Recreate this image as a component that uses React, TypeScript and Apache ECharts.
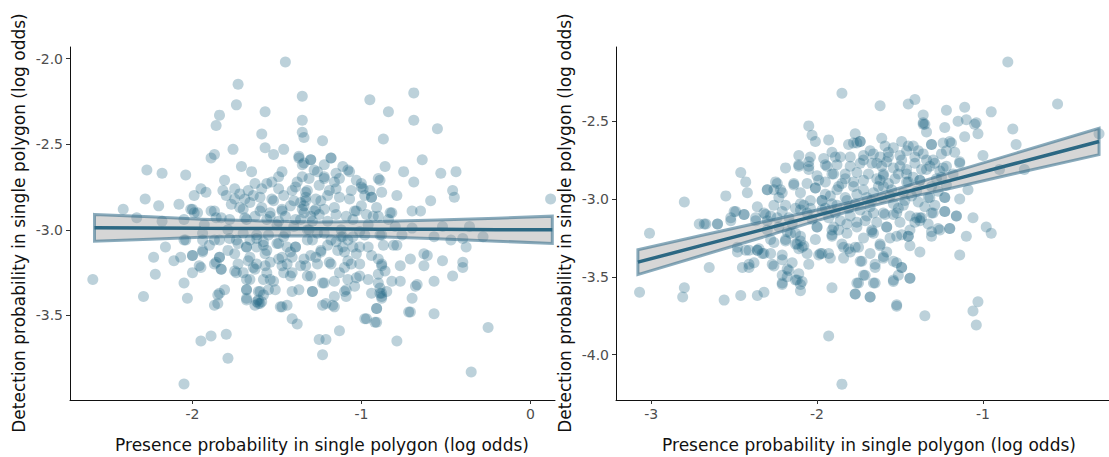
import React, { useEffect, useRef } from 'react';
import * as echarts from 'echarts';

// ---------- data ----------
const leftPoints: number[][] = [
[-1.45,-2.02],[-1.73,-2.15],[-1.35,-2.22],[-0.69,-2.20],[-0.95,-2.24],[-1.74,-2.27],[-1.57,-2.31],[-0.84,-2.31],[-1.84,-2.33],[-1.86,-2.39],[-1.35,-2.36],[-0.69,-2.36],[-0.55,-2.41],[-1.35,-2.43],[-1.59,-2.44],[-1.34,-2.46],[-1.23,-2.48],[-0.87,-2.47],[-1.76,-2.53],[-1.57,-2.52],[-1.46,-2.53],[-1.87,-2.56],[-1.89,-2.58],[-1.52,-2.56],[-1.37,-2.58],[-1.30,-2.59],[-1.18,-2.58],[-1.34,-2.61],[-1.71,-2.63],[-0.64,-2.59],[-2.27,-2.65],[-2.18,-2.67],[-2.04,-2.68],[-1.65,-2.66],[-1.47,-2.66],[-1.28,-2.65],[-1.11,-2.63],[-1.07,-2.66],[-0.86,-2.63],[-0.75,-2.66],[-0.53,-2.67],[-0.44,-2.66],[-1.81,-2.71],[-1.35,-2.69],[-1.63,-2.73],[-1.56,-2.73],[-1.22,-2.70],[-1.16,-2.72],[-1.03,-2.71],[-0.89,-2.71],[-0.69,-2.72],[-1.95,-2.76],[-1.92,-2.78],[-1.82,-2.77],[-1.67,-2.77],[-1.59,-2.76],[-1.49,-2.76],[-1.41,-2.77],[-1.32,-2.77],[-1.15,-2.76],[-1.00,-2.75],[-0.88,-2.78],[-0.46,-2.77],[-2.28,-2.82],[-1.99,-2.80],[-1.75,-2.82],[-1.64,-2.80],[-1.52,-2.83],[-1.33,-2.81],[-1.24,-2.83],[-1.07,-2.82],[-0.94,-2.81],[-0.79,-2.80],[-0.59,-2.83],[-0.45,-2.81],[0.12,-2.82],[-2.20,-2.86],[-2.08,-2.85],[-2.00,-2.88],[-1.87,-2.89],[-1.77,-2.85],[-1.70,-2.88],[-1.59,-2.87],[-1.47,-2.88],[-1.34,-2.86],[-1.27,-2.88],[-1.16,-2.87],[-1.03,-2.89],[-0.91,-2.87],[-0.82,-2.90],[-0.70,-2.89],[-0.65,-2.89],[-2.41,-2.88],[-2.33,-2.93],[-2.18,-2.95],[-2.05,-2.94],[-1.99,-2.90],[-1.86,-2.93],[-1.68,-2.94],[-1.54,-2.92],[-1.39,-2.94],[-1.30,-2.92],[-1.20,-2.95],[-1.09,-2.92],[-0.93,-2.92],[-0.84,-2.94],[-0.70,-2.99],[-0.52,-2.98],[-0.36,-2.98],[-1.94,-3.02],[-1.79,-3.00],[-1.62,-3.03],[-1.45,-3.02],[-1.32,-3.00],[-1.22,-3.02],[-1.11,-3.04],[-0.98,-3.03],[-0.88,-3.03],[-0.57,-3.04],[-0.47,-3.06],[-0.40,-3.05],[-0.28,-3.04],[-2.16,-3.10],[-2.04,-3.06],[-1.87,-3.06],[-1.74,-3.06],[-1.68,-3.10],[-1.58,-3.07],[-1.49,-3.08],[-1.39,-3.10],[-1.29,-3.06],[-1.15,-3.07],[-1.05,-3.10],[-0.96,-3.10],[-0.87,-3.09],[-0.79,-3.09],[-0.38,-3.10],[-2.23,-3.16],[-2.11,-3.18],[-2.07,-3.16],[-2.00,-3.15],[-1.94,-3.13],[-1.84,-3.16],[-1.75,-3.14],[-1.67,-3.18],[-1.57,-3.14],[-1.47,-3.16],[-1.41,-3.16],[-1.30,-3.15],[-1.24,-3.13],[-1.10,-3.13],[-1.03,-3.14],[-0.90,-3.17],[-0.71,-3.17],[-0.61,-3.15],[-0.52,-3.18],[-0.40,-3.19],[-1.86,-3.19],[-1.96,-3.21],[-1.83,-3.23],[-1.74,-3.25],[-1.63,-3.23],[-1.56,-3.25],[-1.47,-3.21],[-1.33,-3.21],[-1.26,-3.20],[-1.18,-3.20],[-1.08,-3.18],[-1.01,-3.20],[-0.88,-3.20],[-0.77,-3.21],[-0.63,-3.21],[-0.40,-3.22],[-2.22,-3.26],[-2.00,-3.25],[-2.59,-3.29],[-2.05,-3.31],[-1.68,-3.29],[-1.54,-3.29],[-1.42,-3.27],[-1.32,-3.27],[-1.23,-3.31],[-1.16,-3.30],[-1.08,-3.29],[-1.01,-3.27],[-0.90,-3.26],[-0.82,-3.30],[-0.77,-3.30],[-0.57,-3.30],[-0.46,-3.27],[-1.81,-3.35],[-1.68,-3.35],[-1.61,-3.36],[-1.51,-3.35],[-1.41,-3.36],[-1.29,-3.36],[-1.09,-3.35],[-0.94,-3.37],[-0.88,-3.37],[-0.68,-3.33],[-2.29,-3.39],[-2.03,-3.40],[-1.85,-3.38],[-1.68,-3.41],[-1.62,-3.42],[-1.60,-3.43],[-1.16,-3.39],[-1.09,-3.39],[-0.88,-3.40],[-0.70,-3.40],[-1.87,-3.44],[-1.85,-3.43],[-1.48,-3.45],[-1.44,-3.44],[-1.23,-3.44],[-1.16,-3.45],[-0.91,-3.46],[-0.72,-3.48],[-0.57,-3.49],[-1.41,-3.52],[-1.38,-3.55],[-0.97,-3.52],[-0.91,-3.54],[-0.25,-3.57],[-1.95,-3.65],[-1.89,-3.62],[-1.80,-3.61],[-1.25,-3.64],[-1.21,-3.64],[-1.13,-3.59],[-0.79,-3.65],[-1.79,-3.75],[-1.23,-3.73],[-0.35,-3.83],[-2.05,-3.90],
[-1.66,-2.84],[-1.60,-2.81],[-1.53,-2.82],[-1.46,-2.80],[-1.72,-2.87],[-1.60,-2.89],[-1.54,-2.90],[-1.47,-2.89],[-2.01,-2.88],[-1.97,-2.90],[-1.89,-2.89],[-1.83,-2.93],[-1.78,-2.94],[-1.69,-2.93],[-1.63,-2.92],[-1.56,-2.94],[-1.49,-2.95],[-1.66,-3.06],[-1.73,-3.08],[-1.78,-3.05],[-1.68,-3.10],[-1.62,-3.10],[-1.56,-3.12],[-1.50,-3.08],[-1.44,-3.10],[-2.05,-3.06],[-1.94,-3.06],[-1.84,-3.06],[-2.00,-3.15],[-1.94,-3.12],[-1.84,-3.16],[-1.66,-3.16],[-1.62,-3.20],[-1.57,-3.21],[-1.49,-3.17],[-1.44,-3.20],[-1.95,-3.22],[-1.87,-3.20],[-1.83,-3.23],[-1.75,-3.24],[-1.70,-3.25],[-1.64,-3.22],[-1.66,-3.29],[-1.58,-3.29],[-1.52,-3.30],[-1.46,-3.25],[-1.68,-3.35],[-1.60,-3.36],[-1.55,-3.35],[-1.68,-3.40],[-1.61,-3.43],[-1.59,-3.42],[-1.47,-3.45],[-1.84,-3.37],
[-1.37,-2.57],[-1.30,-2.59],[-1.18,-2.58],[-1.35,-2.62],[-1.26,-2.66],[-1.22,-2.69],[-1.15,-2.67],[-1.08,-2.65],[-1.00,-2.73],[-0.94,-2.81],[-0.90,-2.70],[-1.39,-2.75],[-1.33,-2.83],[-1.27,-2.82],[-1.19,-2.77],[-1.13,-2.81],[-1.06,-2.77],[-0.99,-2.76],[-1.35,-2.88],[-1.28,-2.89],[-1.22,-2.88],[-1.15,-2.91],[-1.04,-2.89],[-0.97,-2.91],[-0.90,-2.92],[-0.83,-2.90],[-1.40,-2.98],[-1.31,-3.00],[-1.12,-3.04],[-1.01,-3.01],[-0.89,-3.03],[-1.39,-3.10],[-1.32,-3.06],[-1.24,-3.12],[-1.11,-3.10],[-1.01,-3.10],[-0.94,-3.15],[-0.81,-3.09],[-1.34,-3.17],[-1.27,-3.16],[-1.19,-3.19],[-1.06,-3.20],[-0.88,-3.21],[-1.41,-3.25],[-1.30,-3.27],[-1.22,-3.31],[-1.13,-3.25],[-1.03,-3.28],[-0.96,-3.29],[-0.86,-3.24],[-1.37,-3.35],[-1.29,-3.36],[-1.10,-3.36],[-0.89,-3.37],[-1.21,-3.43],[-1.17,-3.44],[-0.91,-3.46],[-0.98,-3.52],[-0.92,-3.54],[-0.71,-3.48],[-0.63,-3.14],[-0.67,-3.32],
[-1.36,-2.84],[-1.34,-2.90],[-1.36,-2.94],[-1.33,-2.78],[-1.38,-2.72],[-1.31,-2.70],[-1.25,-2.74],[-1.20,-2.80],[-1.42,-2.86],[-1.45,-2.92],[-1.40,-2.83],[-1.29,-2.95],[-1.25,-2.91],[-1.62,-3.05],[-1.58,-3.09],[-1.55,-3.03],[-1.70,-3.02],[-1.12,-3.00],[-1.08,-3.06],[-1.14,-3.12],[-1.05,-3.04],[-1.18,-3.06],[-1.72,-2.79],[-1.69,-2.82],[-1.75,-2.76],[-1.80,-2.80],[-0.89,-3.34],[-0.88,-3.39],[-0.90,-3.31],[-0.85,-3.36],[-1.61,-3.41],[-1.63,-3.44],[-1.58,-3.38],[-1.00,-2.86],[-0.98,-2.80],[-0.95,-2.77],[-1.05,-2.94],[-0.96,-2.97],[-1.50,-2.97],[-1.46,-3.04],[-1.53,-2.72],[-1.49,-2.69],[-1.26,-3.02],[-1.20,-3.09],[-1.42,-3.13],[-1.36,-3.21],[-1.10,-3.22],[-1.04,-3.33],[-1.54,-3.19],[-1.73,-3.20],[-1.79,-3.12],[-1.90,-3.09],[-0.80,-2.98],[-0.76,-3.03],[-1.93,-2.97],[-1.22,-2.62],[-1.13,-2.70]
];

const rightPoints: number[][] = [
[-0.85,-2.12],[-1.85,-2.32],[-1.62,-2.40],[-1.45,-2.39],[-1.41,-2.36],[-0.55,-2.39],[-1.22,-2.43],[-1.11,-2.41],[-0.95,-2.44],[-1.36,-2.46],[-1.35,-2.52],[-1.15,-2.50],[-1.10,-2.49],[-1.23,-2.54],[-1.05,-2.52],[-1.34,-2.57],[-1.03,-2.58],[-0.82,-2.55],[-0.75,-2.81],[-0.90,-2.81],[-0.80,-2.65],[-1.00,-2.72],[-2.05,-2.53],[-2.03,-2.59],[-2.01,-2.63],[-1.93,-2.62],[-1.77,-2.58],[-1.76,-2.64],[-1.81,-2.65],[-1.74,-2.63],[-1.61,-2.61],[-1.59,-2.66],[-1.49,-2.63],[-1.45,-2.66],[-1.39,-2.69],[-1.31,-2.65],[-1.25,-2.71],[-1.19,-2.64],[-1.17,-2.70],[-1.11,-2.60],[-1.91,-2.70],[-1.89,-2.73],[-1.86,-2.73],[-1.72,-2.72],[-1.66,-2.71],[-1.57,-2.73],[-1.50,-2.72],[-1.41,-2.73],[-1.34,-2.75],[-1.29,-2.77],[-1.22,-2.79],[-1.14,-2.77],[-2.11,-2.72],[-2.04,-2.73],[-2.05,-2.79],[-2.11,-2.78],[-2.19,-2.80],[-1.95,-2.78],[-1.91,-2.84],[-1.80,-2.79],[-1.74,-2.77],[-1.67,-2.77],[-1.61,-2.79],[-1.54,-2.80],[-1.46,-2.81],[-1.37,-2.81],[-1.32,-2.79],[-1.25,-2.86],[-2.46,-2.83],[-2.43,-2.89],[-2.42,-2.96],[-2.55,-2.98],[-2.80,-3.02],[-2.30,-2.94],[-2.25,-2.89],[-2.22,-2.94],[-2.14,-2.90],[-2.10,-2.96],[-2.01,-2.93],[-1.95,-2.89],[-1.87,-2.92],[-1.83,-2.84],[-1.78,-2.89],[-1.72,-2.88],[-1.64,-2.87],[-1.57,-2.90],[-1.51,-2.84],[-1.46,-2.89],[-1.38,-2.88],[-1.31,-2.92],[-1.22,-2.91],[-1.09,-2.94],[-1.14,-3.00],[-1.23,-2.99],[-2.23,-2.99],[-2.19,-3.04],[-2.10,-3.03],[-2.04,-3.01],[-1.97,-3.01],[-1.91,-3.03],[-1.82,-3.01],[-1.76,-2.97],[-1.67,-3.01],[-1.61,-2.99],[-1.54,-3.03],[-1.47,-3.01],[-1.39,-3.02],[-1.33,-2.99],[-1.29,-3.04],[-2.50,-3.08],[-2.44,-3.10],[-2.32,-3.09],[-2.28,-3.11],[-2.21,-3.08],[-2.13,-3.06],[-2.06,-3.09],[-1.97,-3.07],[-1.89,-3.09],[-1.80,-3.11],[-1.74,-3.07],[-1.66,-3.09],[-1.59,-3.10],[-1.52,-3.09],[-1.44,-3.11],[-1.37,-3.12],[-1.30,-3.09],[-1.23,-3.08],[-1.16,-3.11],[-1.06,-3.12],[-2.71,-3.16],[-2.67,-3.16],[-2.60,-3.16],[-2.52,-3.14],[-2.37,-3.14],[-2.30,-3.14],[-2.23,-3.18],[-2.15,-3.16],[-2.00,-3.18],[-1.91,-3.20],[-1.82,-3.16],[-1.76,-3.18],[-1.67,-3.21],[-1.58,-3.18],[-1.50,-3.15],[-1.44,-3.20],[-1.38,-3.14],[-1.20,-3.19],[-0.98,-3.18],[-0.95,-3.22],[-3.01,-3.22],[-2.48,-3.31],[-2.41,-3.33],[-2.36,-3.33],[-2.28,-3.26],[-2.19,-3.26],[-2.13,-3.22],[-2.13,-3.29],[-2.09,-3.31],[-2.01,-3.26],[-1.97,-3.35],[-1.91,-3.23],[-1.85,-3.29],[-1.81,-3.32],[-1.77,-3.31],[-1.72,-3.25],[-1.66,-3.22],[-1.62,-3.30],[-1.56,-3.25],[-1.49,-3.23],[-1.45,-3.24],[-1.31,-3.24],[-1.26,-3.20],[-1.10,-3.24],[-1.14,-3.36],[-2.45,-3.44],[-2.41,-3.42],[-2.32,-3.35],[-2.26,-3.43],[-2.21,-3.39],[-2.18,-3.45],[-2.15,-3.41],[-2.06,-3.35],[-1.99,-3.36],[-1.92,-3.38],[-1.84,-3.38],[-1.74,-3.40],[-1.65,-3.44],[-1.60,-3.38],[-1.52,-3.41],[-1.49,-3.44],[-2.65,-3.44],[-2.21,-3.49],[-2.13,-3.52],[-2.10,-3.59],[-2.18,-3.50],[-2.21,-3.55],[-1.72,-3.49],[-1.54,-3.53],[-1.51,-3.49],[-1.44,-3.51],[-1.65,-3.54],[-1.75,-3.54],[-1.91,-3.57],[-2.36,-3.62],[-2.32,-3.60],[-2.46,-3.62],[-2.56,-3.65],[-2.80,-3.57],[-2.81,-3.63],[-3.07,-3.60],[-1.77,-3.61],[-1.68,-3.63],[-1.52,-3.69],[-1.35,-3.75],[-1.03,-3.66],[-1.06,-3.72],[-1.04,-3.81],[-1.93,-3.88],[-1.85,-4.19],[-0.30,-2.58],
[-2.11,-2.79],[-2.05,-2.76],[-2.05,-2.81],[-2.00,-2.85],[-1.94,-2.79],[-1.90,-2.84],[-2.24,-2.90],[-2.30,-2.94],[-2.26,-2.94],[-2.21,-2.96],[-2.14,-2.91],[-2.06,-2.90],[-2.01,-2.93],[-2.08,-3.04],[-2.10,-3.07],[-2.04,-3.06],[-1.97,-3.01],[-1.95,-3.06],[-1.88,-3.04],[-1.83,-2.99],[-2.31,-3.10],[-2.24,-3.12],[-2.37,-3.12],[-2.49,-3.08],[-2.44,-3.10],[-2.52,-3.12],[-2.68,-3.16],[-2.60,-3.16],[-2.30,-3.20],[-2.18,-3.21],[-2.12,-3.29],[-2.16,-3.22],[-2.10,-3.24],[-2.00,-3.18],[-1.90,-3.18],[-1.91,-3.24],[-1.87,-3.20],[-1.84,-3.31],[-1.98,-3.35],[-1.93,-3.35],[-2.19,-3.27],[-2.21,-3.36],[-2.28,-3.35],[-2.36,-3.33],[-2.43,-3.33],[-2.48,-3.34],[-2.38,-3.41],[-2.41,-3.44],[-2.27,-3.42],[-2.17,-3.46],[-2.11,-3.48],[-2.12,-3.52],[-2.21,-3.54],
[-1.36,-2.51],[-1.36,-2.52],[-1.04,-2.51],[-1.78,-2.64],[-1.74,-2.63],[-1.31,-2.65],[-1.24,-2.64],[-1.20,-2.63],[-1.22,-2.69],[-1.68,-2.69],[-1.62,-2.73],[-1.54,-2.67],[-1.46,-2.69],[-1.42,-2.66],[-1.36,-2.71],[-1.30,-2.75],[-1.80,-2.73],[-1.72,-2.75],[-1.64,-2.77],[-1.58,-2.76],[-1.50,-2.79],[-1.41,-2.77],[-1.34,-2.81],[-1.24,-2.80],[-1.14,-2.76],[-1.76,-2.83],[-1.69,-2.84],[-1.60,-2.85],[-1.53,-2.87],[-1.46,-2.84],[-1.45,-2.89],[-1.38,-2.88],[-1.28,-2.87],[-1.78,-2.92],[-1.72,-2.94],[-1.63,-2.92],[-1.55,-2.94],[-1.48,-2.96],[-1.40,-2.95],[-1.32,-2.99],[-1.23,-2.99],[-1.77,-3.03],[-1.68,-3.05],[-1.60,-3.09],[-1.54,-3.10],[-1.48,-3.04],[-1.38,-3.12],[-1.31,-3.09],[-1.23,-3.08],[-1.16,-3.11],[-1.76,-3.15],[-1.71,-3.14],[-1.67,-3.20],[-1.58,-3.18],[-1.52,-3.24],[-1.45,-3.24],[-1.31,-3.21],[-1.27,-3.19],[-1.20,-3.19],[-1.75,-3.31],[-1.80,-3.34],[-1.62,-3.29],[-1.68,-3.35],[-1.60,-3.37],[-1.73,-3.40],[-1.65,-3.42],[-1.54,-3.40],[-1.49,-3.44],[-1.71,-3.49],[-1.76,-3.54],[-1.66,-3.54],[-1.54,-3.52],[-1.44,-3.51],[-1.77,-3.61],[-1.68,-3.63],[-1.52,-3.68],
[-2.10,-3.27],[-2.08,-3.30],[-2.11,-3.32],[-2.35,-3.32],[-2.33,-3.35],[-1.85,-2.90],[-1.83,-2.87],[-1.88,-2.94],[-1.60,-2.84],[-1.62,-2.88],[-1.41,-3.15],[-1.40,-3.12],[-2.10,-3.55],[-2.09,-3.53],[-1.95,-2.97],[-1.99,-2.88],[-1.70,-2.99],[-1.66,-2.96],[-1.56,-2.98],[-1.51,-3.06],[-1.43,-2.98],[-1.35,-3.05],[-1.27,-2.95],[-1.18,-2.84],[-1.26,-2.82],[-1.88,-2.78],[-1.96,-2.74],[-2.17,-3.12],[-2.03,-3.13],[-1.93,-3.12],[-1.86,-3.14],[-2.26,-3.04],[-2.36,-3.05],[-1.57,-2.70],[-1.49,-2.75],[-1.42,-2.86],[-1.70,-3.11],[-1.64,-3.15],[-1.82,-3.22],[-2.05,-3.42],[-2.26,-3.28],[-1.44,-3.30],[-1.38,-3.34],[-1.58,-3.34],[-1.33,-3.16],[-1.60,-2.92],[-1.92,-2.98],[-1.81,-3.06]
];

// regression fit and confidence band, read at a few x positions
const leftBandX = [-2.58, -2.25, -1.95, -1.6, -1.25, -0.9, -0.55, -0.2, 0.13];
const leftFit = [-2.988, -2.989, -2.991, -2.992, -2.994, -2.996, -2.997, -2.999, -3.0];
const leftLower = [-3.066, -3.055, -3.044, -3.036, -3.034, -3.04, -3.052, -3.066, -3.08];
const leftUpper = [-2.91, -2.923, -2.938, -2.948, -2.954, -2.952, -2.942, -2.932, -2.92];

const rightBandX = [-3.08, -2.7, -2.3, -2.0, -1.8, -1.5, -1.2, -0.8, -0.3];
const rightFit = [-3.406, -3.3, -3.189, -3.105, -3.049, -2.965, -2.882, -2.77, -2.63];
const rightLower = [-3.486, -3.365, -3.237, -3.139, -3.077, -3.001, -2.932, -2.835, -2.715];
const rightUpper = [-3.326, -3.235, -3.141, -3.071, -3.021, -2.929, -2.832, -2.705, -2.545];

const leftXTicks = [-2, -1, 0];
const leftYTicks = [-2.0, -2.5, -3.0, -3.5];
const rightXTicks = [-3, -2, -1];
const rightYTicks = [-2.5, -3.0, -3.5, -4.0];

const xTitle = 'Presence probability in single polygon (log odds)';
const yTitle = 'Detection probability in single polygon (log odds)';

const FONT = 'DejaVu Sans';
const POINT = 'rgba(27, 97, 130, 0.37)';
const LINE = '#2c6883';

function axisBase(ticks: number[], digits: number) {
  return {
    type: 'value' as const,
    axisLine: { show: true, onZero: false, lineStyle: { color: '#111', width: 1 } },
    axisTick: { show: true, length: 4, customValues: ticks, lineStyle: { color: '#333' } },
    axisLabel: {
      show: true,
      customValues: ticks,
      color: '#4d4d4d',
      fontFamily: FONT,
      fontSize: 14,
      margin: 7,
      formatter: (v: number) => v.toFixed(digits),
    },
    splitLine: { show: false },
  };
}

function bandSeries(idx: number, bx: number[], lo: number[], up: number[]) {
  return {
    type: 'custom',
    xAxisIndex: idx,
    yAxisIndex: idx,
    clip: true,
    z: 3,
    data: [[bx[0], lo[0]]],
    renderItem: (params: any, api: any) => {
      const pts: number[][] = [];
      for (let i = 0; i < bx.length; i++) pts.push(api.coord([bx[i], up[i]]));
      for (let i = bx.length - 1; i >= 0; i--) pts.push(api.coord([bx[i], lo[i]]));
      return {
        type: 'polygon',
        shape: { points: pts },
        style: { fill: 'rgba(153,153,153,0.4)', stroke: 'rgba(44,104,135,0.55)', lineWidth: 3 },
      };
    },
  };
}

export default function App() {
  const ref = useRef<HTMLDivElement>(null);
  useEffect(() => {
    document.body.style.margin = '0';
    if (!ref.current) return;
    const chart = echarts.init(ref.current, null, { renderer: 'svg' });
    const titleStyle = (text: string) => ({
      text, fill: '#111', font: `17px "${FONT}"`, textAlign: 'center', textVerticalAlign: 'middle',
    });
    chart.setOption({
      animation: false,
      backgroundColor: '#fff',
      grid: [
        { left: 70, top: 47, width: 485, height: 353 },
        { left: 616, top: 47, width: 493, height: 353 },
      ],
      xAxis: [
        { ...axisBase(leftXTicks, 0), gridIndex: 0, min: -2.725, max: 0.146 },
        { ...axisBase(rightXTicks, 0), gridIndex: 1, min: -3.212, max: -0.24 },
      ],
      yAxis: [
        { ...axisBase(leftYTicks, 1), gridIndex: 0, min: -3.994, max: -1.932 },
        { ...axisBase(rightYTicks, 1), gridIndex: 1, min: -4.292, max: -2.023 },
      ],
      series: [
        {
          type: 'scatter', xAxisIndex: 0, yAxisIndex: 0, data: leftPoints, symbolSize: 11,
          itemStyle: { color: POINT }, clip: true, z: 2,
        },
        bandSeries(0, leftBandX, leftLower, leftUpper),
        {
          type: 'line', xAxisIndex: 0, yAxisIndex: 0, data: leftBandX.map((x, i) => [x, leftFit[i]]),
          symbol: 'none', lineStyle: { color: LINE, width: 3.5 }, z: 4, clip: true,
        },
        {
          type: 'scatter', xAxisIndex: 1, yAxisIndex: 1, data: rightPoints, symbolSize: 11,
          itemStyle: { color: POINT }, clip: true, z: 2,
        },
        bandSeries(1, rightBandX, rightLower, rightUpper),
        {
          type: 'line', xAxisIndex: 1, yAxisIndex: 1, data: rightBandX.map((x, i) => [x, rightFit[i]]),
          symbol: 'none', lineStyle: { color: LINE, width: 3.5 }, z: 4, clip: true,
        },
      ],
      graphic: [
        { type: 'text', x: 322, y: 445, style: titleStyle(xTitle) },
        { type: 'text', x: 869, y: 445, style: titleStyle(xTitle) },
        { type: 'text', x: 19, y: 223, rotation: Math.PI / 2, style: titleStyle(yTitle) },
        { type: 'text', x: 565, y: 223, rotation: Math.PI / 2, style: titleStyle(yTitle) },
      ],
    });
    return () => chart.dispose();
  }, []);
  return <div ref={ref} style={{ width: 1109, height: 457 }} />;
}
